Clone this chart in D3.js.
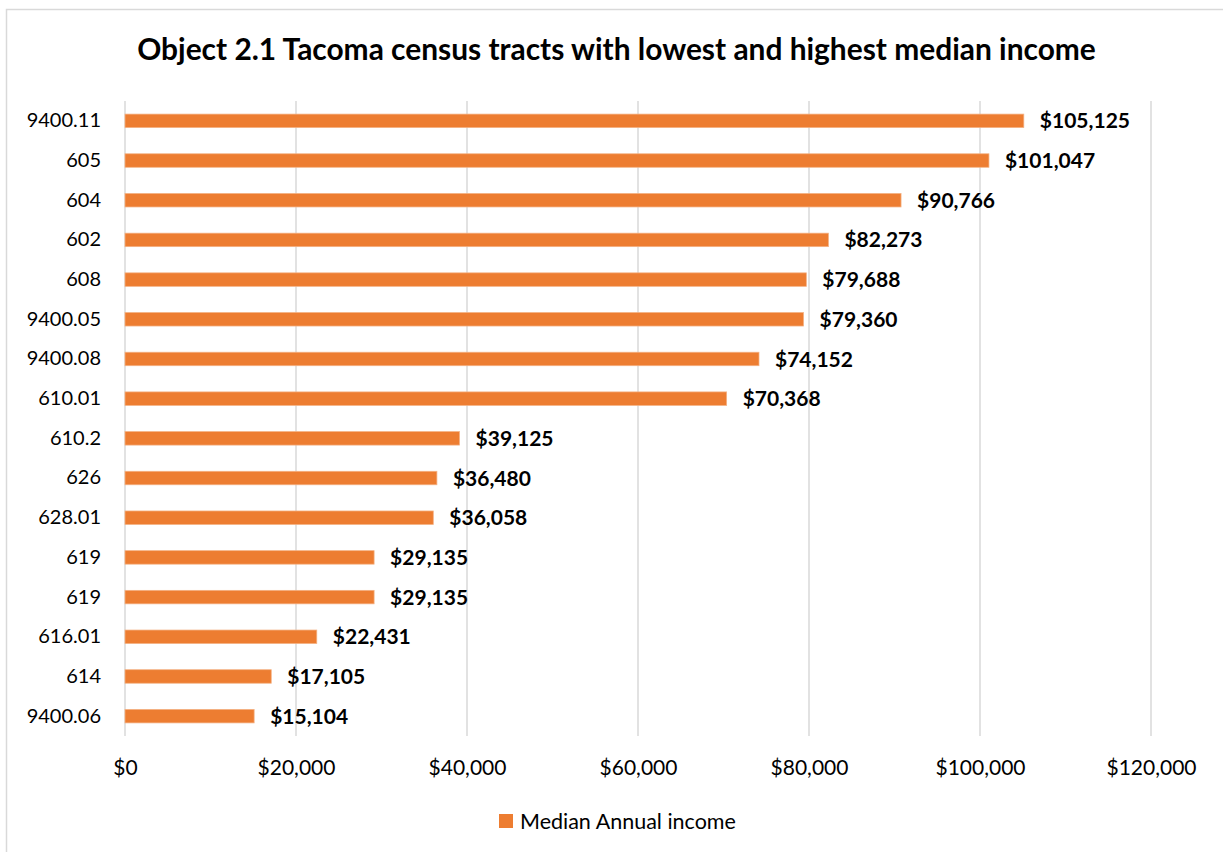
<!DOCTYPE html>
<html><head><meta charset="utf-8">
<script src="https://cdn.jsdelivr.net/npm/d3@7"></script>
<style>html,body{margin:0;padding:0;background:#fff;}svg{display:block;}</style>
</head><body>
<svg id="chart" width="1223" height="852"></svg>
<script>
const categories = ["9400.11","605","604","602","608","9400.05","9400.08","610.01","610.2","626","628.01","619","619","616.01","614","9400.06"];
const values = [105125,101047,90766,82273,79688,79360,74152,70368,39125,36480,36058,29135,29135,22431,17105,15104];
const xTicks = [0,20000,40000,60000,80000,100000,120000];
const titleText = "Object 2.1 Tacoma census tracts with lowest and highest median income";
const seriesName = "Median Annual income";

const FONT = "Lato, 'Open Sans', sans-serif";
const ORANGE = "#ED7D31";
const svg = d3.select("#chart");

svg.append("rect").attr("x",6.5).attr("y",9.5).attr("width",1240).attr("height",900)
  .attr("fill","#fff").attr("stroke","#d9d9d9").attr("stroke-width",1.5);

const m = {left:125, right:1151, top:101, bottom:736};
const x = d3.scaleLinear().domain([0,120000]).range([m.left,m.right]);
const idx = d3.range(categories.length);
const y = d3.scaleBand().domain(idx).range([m.top,m.bottom]).paddingInner(0.66).paddingOuter(0.33);

// title
const title = svg.append("text").attr("x",(137+1096)/2).attr("y",60).attr("text-anchor","middle")
  .attr("font-family",FONT).attr("font-weight","bold").attr("font-size",26).attr("fill","#000").text(titleText);
const tw = title.node().getComputedTextLength();
title.attr("font-size", 26*959/tw);

// gridlines
svg.append("g").selectAll("line").data(xTicks).join("line")
  .attr("x1",d=>x(d)).attr("x2",d=>x(d)).attr("y1",m.top).attr("y2",m.bottom)
  .attr("stroke","#d9d9d9").attr("stroke-width",1.5);

// x axis
const xAxis = svg.append("g").attr("transform",`translate(0,${m.bottom})`)
  .call(d3.axisBottom(x).tickValues(xTicks).tickSize(0).tickPadding(24).tickFormat(d=>"$"+d3.format(",")(d)));
xAxis.select(".domain").remove();
xAxis.selectAll("text").attr("font-family",FONT).attr("font-size",21).attr("fill","#000");

// y axis
const yAxis = svg.append("g").attr("transform",`translate(${m.left},0)`)
  .call(d3.axisLeft(y).tickSize(0).tickPadding(24).tickFormat(i=>categories[i]));
yAxis.select(".domain").remove();
yAxis.selectAll("text").attr("font-family",FONT).attr("font-size",20).attr("fill","#000");

// bars
svg.append("g").selectAll("rect").data(idx).join("rect")
  .attr("x",x(0)).attr("y",i=>y(i)).attr("width",i=>x(values[i])-x(0)).attr("height",y.bandwidth())
  .attr("fill",ORANGE).attr("stroke","#f4b183").attr("stroke-width",0.75);

// value labels
svg.append("g").selectAll("text").data(idx).join("text")
  .attr("x",i=>x(values[i])+16).attr("y",i=>y(i)+y.bandwidth()/2).attr("dy","0.36em")
  .attr("font-family",FONT).attr("font-weight","bold").attr("font-size",21).attr("fill","#000")
  .text(i=>"$"+d3.format(",")(values[i]));

// legend
svg.append("rect").attr("x",499).attr("y",814).attr("width",14).attr("height",14).attr("fill",ORANGE);
svg.append("text").attr("x",520).attr("y",821).attr("dy","0.36em").attr("font-family",FONT)
  .attr("font-size",21.5).attr("fill","#000").text(seriesName);
</script>
</body></html>
